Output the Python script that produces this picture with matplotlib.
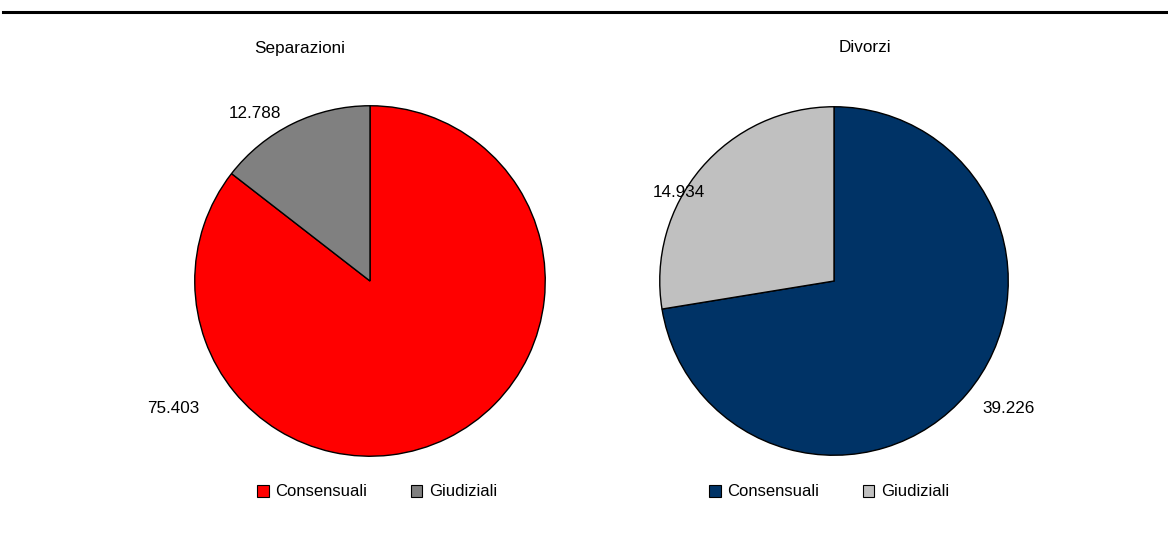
import matplotlib
matplotlib.use("Agg")
import matplotlib.pyplot as plt
from matplotlib.patches import Patch
from matplotlib.lines import Line2D

plt.rcParams['font.family'] = ['Liberation Sans', 'DejaVu Sans']

categories = ["Consensuali", "Giudiziali"]
sep_values = [75403, 12788]
div_values = [39226, 14934]
sep_colors = ["#FF0000", "#808080"]
div_colors = ["#003366", "#C0C0C0"]

W, H = 1168, 555
fig = plt.figure(figsize=(W / 100, H / 100), dpi=100)

def fmt(v):
    return f"{v:,}".replace(",", ".")

def add_pie(cx, cy, r, values, colors, title, title_x, label_pos, legend_x):
    ax = fig.add_axes([(cx - r) / W, 1 - (cy + r) / H, 2 * r / W, 2 * r / H])
    ax.pie(values, colors=colors, startangle=90, counterclock=False,
           wedgeprops=dict(edgecolor="black", linewidth=1.0), radius=1)
    ax.set_xlim(-1.01, 1.01)
    ax.set_ylim(-1.01, 1.01)
    ax.set_aspect("equal")
    ax.axis("off")
    for v, (lx, ly) in zip(values, label_pos):
        ax.text(lx, ly, fmt(v), ha="center", va="center", fontsize=12.3,
                clip_on=False)
    fig.text(title_x / W, 1 - 48 / H, title, ha="center", va="center",
             fontsize=12.3)
    handles = [Patch(facecolor=c, edgecolor="black", linewidth=0.8)
               for c in colors]
    fig.legend(handles, categories, loc="center", ncol=2, frameon=False,
               bbox_to_anchor=(legend_x / W, 1 - 492 / H), fontsize=12,
               handlelength=0.7, handleheight=0.7, handletextpad=0.4,
               columnspacing=2.6)

add_pie(370, 281, 177, sep_values, sep_colors, "Separazioni", 300,
        [(-1.12, -0.73), (-0.655, 0.955)], 377)
add_pie(834, 281, 176, div_values, div_colors, "Divorzi", 865,
        [(1.0, -0.73), (-0.89, 0.51)], 829)

fig.add_artist(Line2D([3 / W, 1.0], [1 - 12 / H, 1 - 12 / H],
                      color="black", linewidth=2.2, transform=fig.transFigure))

fig.savefig("out.png", dpi=100, facecolor="white")
